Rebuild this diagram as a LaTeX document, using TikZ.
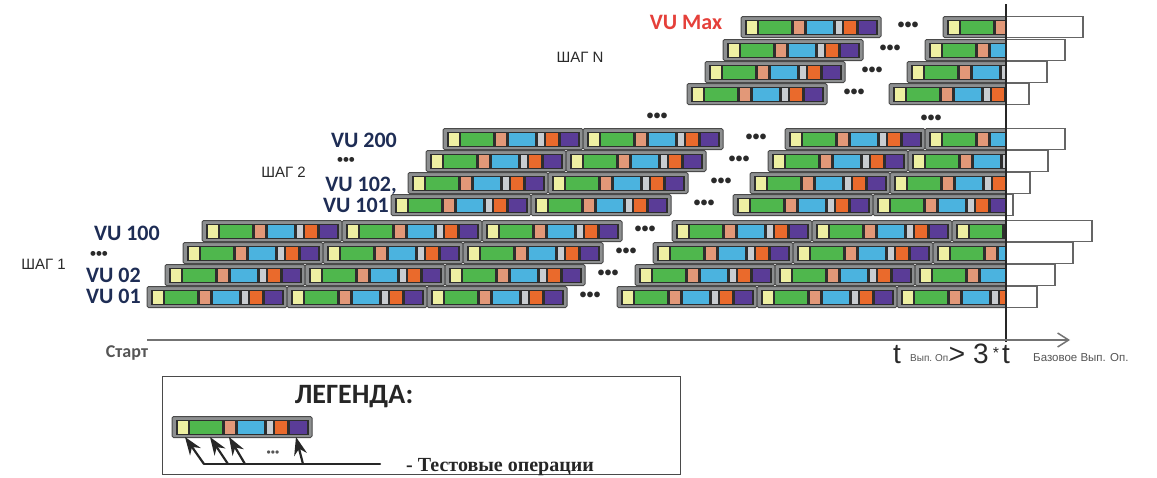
\documentclass[tikz,border=0pt]{standalone}
\usepackage{fontspec}
\setmainfont{Liberation Sans}
\newfontfamily\carfont{Carlito}
\newfontfamily\tbfont{Liberation Serif}
\usetikzlibrary{arrows.meta}
\definecolor{cYel}{HTML}{EEF0A2}
\definecolor{cGrn}{HTML}{4FB74D}
\definecolor{cSal}{HTML}{E29878}
\definecolor{cBlu}{HTML}{4BB3DF}
\definecolor{cLgr}{HTML}{C9CDD1}
\definecolor{cOrn}{HTML}{EA6A2C}
\definecolor{cPur}{HTML}{5A3C97}
\definecolor{cFrame}{HTML}{8D8F90}
\definecolor{cEdge}{HTML}{4A4A4A}
\definecolor{cIn}{HTML}{2E2E2E}
\definecolor{cNavy}{HTML}{1E2D55}
\definecolor{cRed}{HTML}{E5403A}
\definecolor{cTxt}{HTML}{2A2A2A}
\definecolor{cSoft}{HTML}{555555}

\newcommand\vub[2]{%
 \filldraw[fill=cFrame,draw=cEdge,line width=1pt,rounded corners=1.5pt] ({#1},{#2-10.5}) rectangle ({#1+140},{#2+10.5});
 \fill[cIn] ({#1+3.5},{#2-7.5}) rectangle ({#1+136.5},{#2+7.5});
 \fill[cYel] ({#1+5.5},{#2-6.5}) rectangle ({#1+15.5},{#2+6.5});
 \fill[cGrn] ({#1+18},{#2-6.5}) rectangle ({#1+50},{#2+6.5});
 \fill[cSal] ({#1+52.5},{#2-6.5}) rectangle ({#1+62.5},{#2+6.5});
 \fill[cBlu] ({#1+65.5},{#2-6.5}) rectangle ({#1+92},{#2+6.5});
 \fill[cLgr] ({#1+95},{#2-6.5}) rectangle ({#1+100.5},{#2+6.5});
 \fill[cOrn] ({#1+103},{#2-6.5}) rectangle ({#1+115},{#2+6.5});
 \fill[cPur] ({#1+117.5},{#2-6.5}) rectangle ({#1+135},{#2+6.5});
}
\newcommand\vubcut[2]{%
 \begin{scope}\clip ({#1-3},{#2-13}) rectangle (1006,{#2+13}); \vub{#1}{#2}\end{scope}
 \filldraw[fill=white,draw=cEdge!85,line width=1.4pt] (1006,{#2-10.5}) rectangle ({#1+140},{#2+10.5});
}

\begin{document}
\begin{tikzpicture}[x=1pt,y=-1pt,
 vul/.style={font=\carfont\bfseries\fontsize{22}{22}\selectfont,text=cNavy,inner sep=0pt,anchor=base east},
 sagl/.style={font=\fontsize{15}{15}\selectfont,text=cTxt,inner sep=0pt},
 dotn/.style={font=\bfseries\fontsize{20}{20}\selectfont,text=cTxt,inner sep=0pt},
 bigt/.style={font=\fontsize{28}{28}\selectfont,text=cTxt,inner sep=0pt,anchor=base},
 smallt/.style={font=\fontsize{10}{10}\selectfont,text=cSoft,inner sep=0pt,anchor=base west},
 legarrow/.style={line width=2.2pt,draw=black!85,-{Stealth[length=18pt,width=13pt]}}]
\useasboundingbox (0,0) rectangle (1157,477);
\fill[white] (0,0) rectangle (1157,477);

% step 1
\foreach \s/\y [count=\i] in {147/297,165/275,183/253,202/231}{
  \vub{\s}{\y}\vub{\s+140}{\y}\vub{\s+280}{\y}
  \node[dotn] (da\i) at ({\s+443},{\y}) {•••};
  \vub{\s+470}{\y}\vub{\s+610}{\y}\vubcut{\s+750}{\y}
}
% step 2
\foreach \s/\y [count=\i] in {391/205,408/183,426/161,443/139}{
  \vub{\s}{\y}\vub{\s+140}{\y}
  \node[dotn] (db\i) at ({\s+313},{\y}) {•••};
  \vub{\s+342}{\y}\vubcut{\s+482}{\y}
}
% step N
\foreach \s/\y [count=\i] in {741/27,723/50,705/72,687/94}{
  \vub{\s}{\y}
  \node[dotn] (dc\i) at ({\s+167},{\y}) {•••};
  \vubcut{\s+202}{\y}
}
\node[dotn] (dx1) at (657,118) {•••};
\node[dotn] (dx2) at (931,120) {•••};

% labels
\node[vul] (vu01) at (141,303) {VU 01};
\node[vul] (vu02) at (141,282) {VU 02};
\node[dotn,font=\bfseries\fontsize{17}{17}\selectfont] (dv1) at (99,255) {•••};
\node[vul] (vu100) at (160,240) {VU 100};
\node[sagl,anchor=east] (s1) at (66,264) {ШАГ 1};
\node[vul] (vu101) at (389,212) {VU 101};
\node[vul] (vu102) at (397,191) {VU 102,};
\node[sagl,anchor=east] (s2) at (306,172) {ШАГ 2};
\node[dotn,font=\bfseries\fontsize{17}{17}\selectfont] (dv2) at (346,161) {•••};
\node[vul] (vu200) at (397,147) {VU 200};
\node[sagl] (sn) at (580,57) {ШАГ N};
\node[vul,text=cRed,anchor=center] (vumax) at (686,22) {VU Max};

% time line
\coordinate (vtop) at (1006,4);
\coordinate (vbot) at (1006,342);
\draw[line width=2.5pt,draw=black!85] (vtop) -- (vbot);
\coordinate (ax0) at (147,340);
\coordinate (ax1) at (1070,340);
\draw[line width=1.8pt,draw=black!55,-{Straight Barb[length=11pt,width=14pt,line width=1.5pt]}] (ax0) -- (ax1);
\node[font=\carfont\bfseries\fontsize{18}{18}\selectfont,text=cSoft,inner sep=0pt] (start) at (127,353) {Старт};

\node[bigt] (t1) at (897,363) {t};
\node[smallt] (tl1) at (910,361) {Вып.\ Оп.};
\node[bigt] (gt) at (957,363) {>};
\node[bigt] (three) at (981,363) {3};
\node[bigt,font=\fontsize{16}{16}\selectfont] (star) at (996,358) {*};
\node[bigt] (t2) at (1006,363) {t};
\node[smallt,font=\fontsize{11.5}{12}\selectfont] (tl2) at (1033,361) {Базовое Вып. Оп.};

% legend
\node[draw=cEdge,line width=1.3pt,minimum width=518pt,minimum height=98pt,anchor=north west,inner sep=0pt] (legbox) at (162,376) {};
\node[font=\carfont\bfseries\fontsize{28}{28}\selectfont,text=black!85,inner sep=0pt] (legt) at (354,397) {ЛЕГЕНДА:};
\vub{172}{427}
\coordinate (a1) at (185,437);
\coordinate (a2) at (210,437);
\coordinate (a3) at (229,437);
\coordinate (a4) at (296,437);
\coordinate (b1) at (204,464);
\coordinate (b2) at (228,464);
\coordinate (b3) at (245,464);
\coordinate (b4) at (303,464);
\coordinate (bend) at (380,464);
\draw[line width=2.4pt,draw=black!85,line cap=round] (b1) -- (bend);
\draw[legarrow] (b1) -- (a1);
\draw[legarrow] (b2) -- (a2);
\draw[legarrow] (b3) -- (a3);
\draw[legarrow] (b4) -- (a4);
\node[font=\fontsize{12}{12}\selectfont,text=cSoft,inner sep=0pt] (ldots) at (273,454) {•••};
\node[font=\tbfont\bfseries\fontsize{20}{20}\selectfont,text=black!85,inner sep=0pt,anchor=base west] (legtxt) at (406,471) {- Тестовые операции};
\end{tikzpicture}
\end{document}
